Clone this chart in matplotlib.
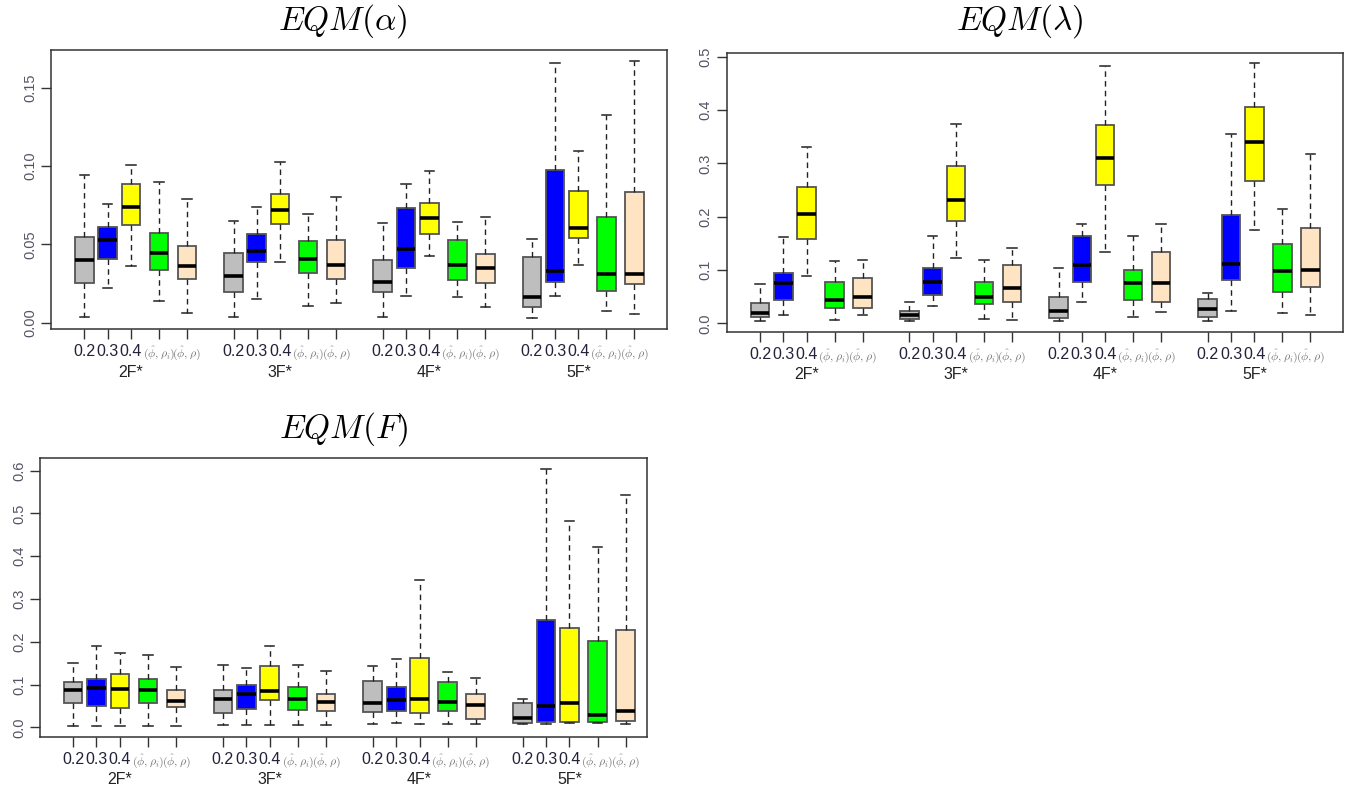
import matplotlib
matplotlib.use('Agg')
import matplotlib.pyplot as plt
import numpy as np

plt.rcParams['font.family'] = ['Liberation Sans', 'DejaVu Sans']
plt.rcParams['mathtext.fontset'] = 'cm'

groups = ['2F*', '3F*', '4F*', '5F*']
methods = ['0.2', '0.3', '0.4', r'$(\hat{\phi},\rho_i)$', r'$(\hat{\phi},\rho)$']
colors = ['#bebebe', '#0000ff', '#ffff00', '#00ff00', '#ffe4c4']

# five-number summaries, one row per group, one column per method
alpha_lo = [[0.0034, 0.0219, 0.0362, 0.0138, 0.0064],
            [0.0034, 0.0149, 0.0385, 0.0109, 0.0126],
            [0.0034, 0.0172, 0.0426, 0.0162, 0.0098],
            [0.0028, 0.0172, 0.0368, 0.0074, 0.0053]]
alpha_q1 = [[0.0251, 0.0410, 0.0621, 0.0336, 0.0277],
            [0.0194, 0.0385, 0.0628, 0.0315, 0.0277],
            [0.0194, 0.0351, 0.0564, 0.0270, 0.0251],
            [0.0098, 0.0257, 0.0538, 0.0200, 0.0245]]
alpha_med = [[0.0398, 0.0526, 0.0736, 0.0445, 0.0362],
             [0.0300, 0.0455, 0.0719, 0.0409, 0.0368],
             [0.0260, 0.0472, 0.0668, 0.0368, 0.0351],
             [0.0162, 0.0328, 0.0604, 0.0311, 0.0311]]
alpha_q3 = [[0.0549, 0.0613, 0.0885, 0.0574, 0.0487],
            [0.0443, 0.0564, 0.0823, 0.0523, 0.0528],
            [0.0398, 0.0730, 0.0766, 0.0528, 0.0436],
            [0.0419, 0.0972, 0.0840, 0.0672, 0.0834]]
alpha_hi = [[0.0943, 0.0760, 0.1006, 0.0898, 0.0787],
            [0.0651, 0.0736, 0.1023, 0.0691, 0.0802],
            [0.0634, 0.0887, 0.0968, 0.0645, 0.0672],
            [0.0534, 0.1658, 0.1097, 0.1326, 0.1673]]

lambda_lo = [[0.0044, 0.0150, 0.0881, 0.0063, 0.0150],
             [0.0044, 0.0319, 0.1231, 0.0088, 0.0063],
             [0.0050, 0.0400, 0.1338, 0.0113, 0.0219],
             [0.0050, 0.0238, 0.1750, 0.0200, 0.0150]]
lambda_q1 = [[0.0119, 0.0431, 0.1588, 0.0281, 0.0288],
             [0.0088, 0.0538, 0.1913, 0.0369, 0.0400],
             [0.0094, 0.0775, 0.2588, 0.0438, 0.0400],
             [0.0113, 0.0813, 0.2675, 0.0588, 0.0675]]
lambda_med = [[0.0188, 0.0763, 0.2050, 0.0438, 0.0488],
              [0.0150, 0.0775, 0.2319, 0.0494, 0.0663],
              [0.0238, 0.1100, 0.3100, 0.0763, 0.0763],
              [0.0275, 0.1119, 0.3394, 0.0981, 0.1000]]
lambda_q3 = [[0.0375, 0.0950, 0.2556, 0.0775, 0.0844],
             [0.0225, 0.1031, 0.2944, 0.0775, 0.1094],
             [0.0488, 0.1638, 0.3725, 0.0994, 0.1338],
             [0.0456, 0.2038, 0.4050, 0.1494, 0.1794]]
lambda_hi = [[0.0744, 0.1625, 0.3300, 0.1169, 0.1181],
             [0.0406, 0.1644, 0.3744, 0.1194, 0.1406],
             [0.1031, 0.1863, 0.4819, 0.1638, 0.1863],
             [0.0575, 0.3550, 0.4875, 0.2150, 0.3175]]

f_lo = [[0.0030, 0.0030, 0.0030, 0.0030, 0.0030],
        [0.0047, 0.0047, 0.0047, 0.0047, 0.0047],
        [0.0078, 0.0094, 0.0078, 0.0078, 0.0078],
        [0.0078, 0.0078, 0.0109, 0.0109, 0.0078]]
f_q1 = [[0.0577, 0.0507, 0.0460, 0.0561, 0.0475],
        [0.0343, 0.0429, 0.0647, 0.0397, 0.0390],
        [0.0351, 0.0390, 0.0327, 0.0390, 0.0203],
        [0.0101, 0.0117, 0.0117, 0.0117, 0.0140]]
f_med = [[0.0865, 0.0920, 0.0896, 0.0880, 0.0624],
         [0.0670, 0.0772, 0.0842, 0.0670, 0.0585],
         [0.0561, 0.0647, 0.0670, 0.0585, 0.0522],
         [0.0218, 0.0499, 0.0561, 0.0288, 0.0382]]
f_q3 = [[0.1068, 0.1130, 0.1255, 0.1122, 0.0865],
        [0.0880, 0.0998, 0.1442, 0.0951, 0.0787],
        [0.1076, 0.0935, 0.1613, 0.1068, 0.0772],
        [0.0561, 0.2502, 0.2315, 0.2019, 0.2276]]
f_hi = [[0.1496, 0.1910, 0.1746, 0.1700, 0.1403],
        [0.1458, 0.1380, 0.1910, 0.1458, 0.1325],
        [0.1442, 0.1590, 0.3445, 0.1302, 0.1161],
        [0.0670, 0.6040, 0.4832, 0.4209, 0.5440]]

offsets = [1, 2, 3, 4.2, 5.4]
group_step = 6.4


def draw_panel(ax, lo, q1, med, q3, hi, yticks, ylabels, ylim, xlim):
    stats, pos, faces = [], [], []
    for g in range(len(groups)):
        for m in range(len(methods)):
            stats.append(dict(whislo=lo[g][m], q1=q1[g][m], med=med[g][m],
                              q3=q3[g][m], whishi=hi[g][m], fliers=[]))
            pos.append(g * group_step + offsets[m])
            faces.append(colors[m])
    bp = ax.bxp(stats, positions=pos, widths=0.8, capwidths=0.4,
                patch_artist=True, showfliers=False,
                boxprops=dict(edgecolor='#555555', linewidth=1.3),
                medianprops=dict(color='black', linewidth=2.6, solid_capstyle='butt'),
                whiskerprops=dict(color='#222222', linewidth=1.0, linestyle=(0, (4, 3))),
                capprops=dict(color='#222222', linewidth=1.1))
    for patch, c in zip(bp['boxes'], faces):
        patch.set_facecolor(c)

    ax.set_xlim(*xlim)
    ax.set_ylim(*ylim)
    ax.set_xticks(pos, methods * len(groups))
    for i, lab in enumerate(ax.get_xticklabels()):
        if i % 5 >= 3:
            lab.set_fontsize(8.6)
            lab.set_color('#777777')
        else:
            lab.set_fontsize(11.5)
            lab.set_color('#22223a')
    ax.tick_params(axis='x', length=7, width=1, color='#333333', pad=4)
    ax.set_yticks(yticks, ylabels)
    ax.tick_params(axis='y', length=7, width=1, color='#333333', pad=3,
                   labelsize=10.5, labelcolor='#555566')
    for lab in ax.get_yticklabels():
        lab.set_rotation(90)
        lab.set_va('center')
    for sp in ax.spines.values():
        sp.set_color('#333333')
        sp.set_linewidth(1.1)
    for g, name in enumerate(groups):
        ax.annotate(name, xy=(g * group_step + offsets[2], 0),
                    xycoords=('data', 'axes fraction'), xytext=(0, -31),
                    textcoords='offset points', ha='center', va='center',
                    fontsize=11.5, color='#222222')


fig = plt.figure(figsize=(13.53, 7.88), dpi=100)

ax1 = fig.add_axes([0.0377, 0.5825, 0.4553, 0.354])
draw_panel(ax1, alpha_lo, alpha_q1, alpha_med, alpha_q3, alpha_hi,
           [0, 0.05, 0.10, 0.15], ['0.00', '0.05', '0.10', '0.15'],
           (-0.004, 0.1741), (-0.43, 26.0))

ax2 = fig.add_axes([0.5371, 0.579, 0.4555, 0.3541])
draw_panel(ax2, lambda_lo, lambda_q1, lambda_med, lambda_q3, lambda_hi,
           [0, 0.1, 0.2, 0.3, 0.4, 0.5], ['0.0', '0.1', '0.2', '0.3', '0.4', '0.5'],
           (-0.0158, 0.5074), (-0.43, 26.0))

ax3 = fig.add_axes([0.0296, 0.0651, 0.4484, 0.3533])
draw_panel(ax3, f_lo, f_q1, f_med, f_q3, f_hi,
           [0, 0.1, 0.2, 0.3, 0.4, 0.5, 0.6],
           ['0.0', '0.1', '0.2', '0.3', '0.4', '0.5', '0.6'],
           (-0.022, 0.629), (-0.41, 25.5))

fig.text(343 / 1353, 1 - 21 / 788, r'$EQM(\alpha)$', ha='center', va='center', fontsize=24)
fig.text(1020 / 1353, 1 - 21 / 788, r'$EQM(\lambda)$', ha='center', va='center', fontsize=24)
fig.text(344 / 1353, 1 - 429 / 788, r'$EQM(F)$', ha='center', va='center', fontsize=24)

fig.savefig('out.png', dpi=100, facecolor='white')
